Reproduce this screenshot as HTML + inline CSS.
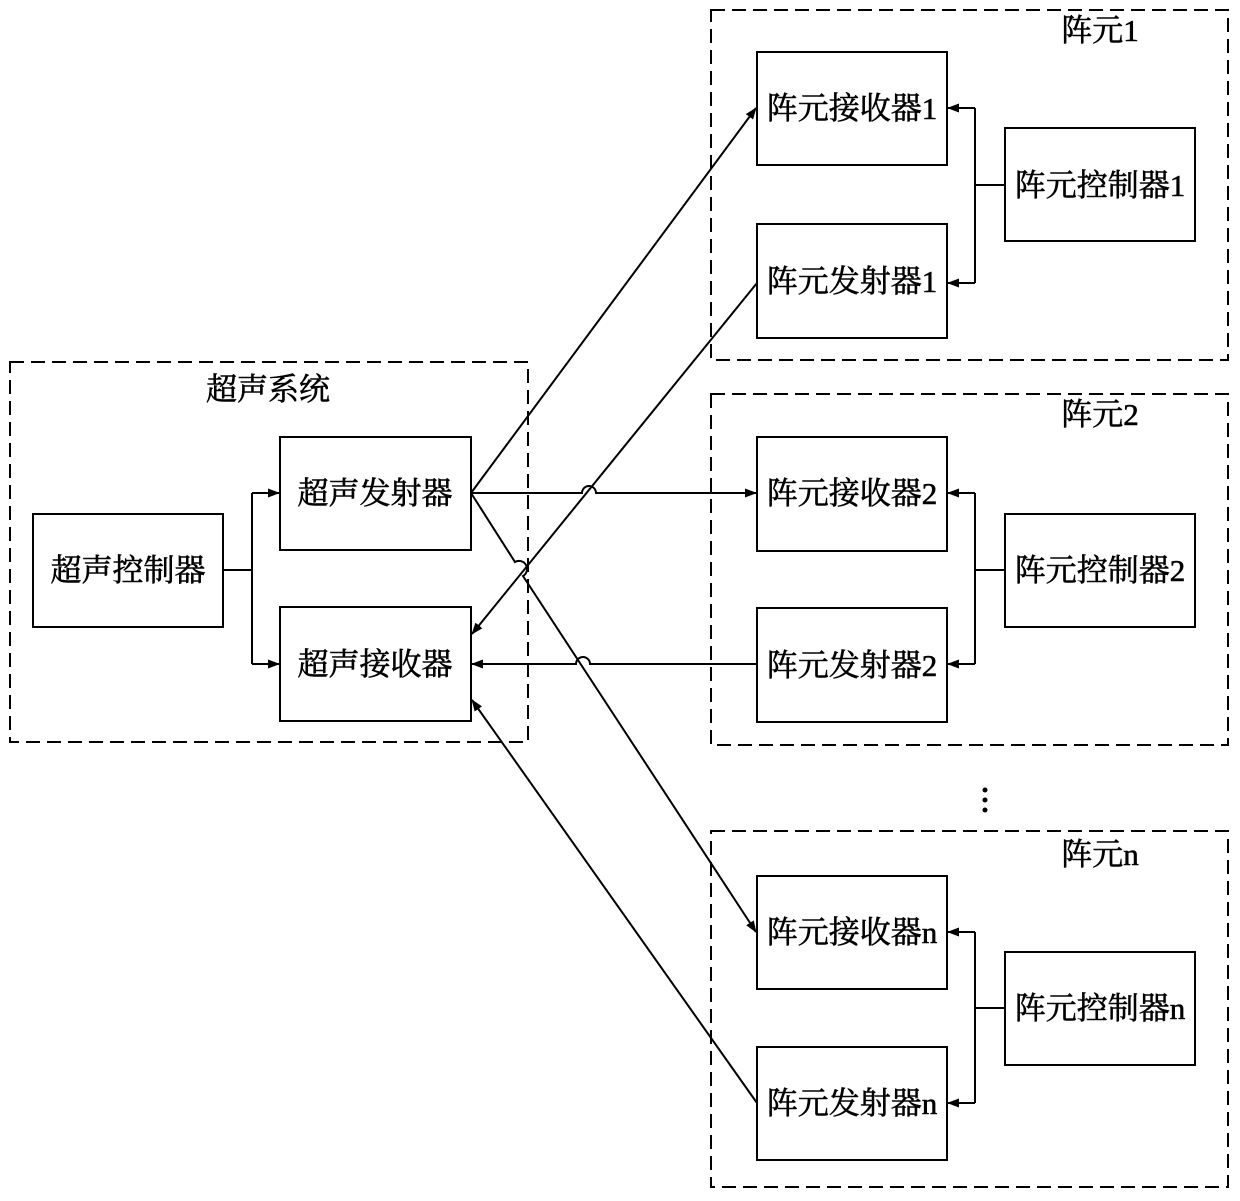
<!DOCTYPE html>
<html><head><meta charset="utf-8"><style>
html,body{margin:0;padding:0;background:#fff;}
svg text{font-family:"Liberation Serif","Noto Serif CJK SC","Noto Sans CJK SC",serif;font-size:31px;fill:#000;stroke:#000;stroke-width:0.6;}
</style></head><body>
<svg width="1240" height="1196" viewBox="0 0 1240 1196" xmlns="http://www.w3.org/2000/svg">
<defs><marker id="a" markerWidth="12" markerHeight="9" refX="11" refY="4.5" orient="auto" markerUnits="userSpaceOnUse"><path d="M0,0 L12,4.5 L0,9 Z" fill="#000"/></marker></defs>
<g fill="none" stroke="#000" stroke-width="2" stroke-dasharray="14,7">
<rect x="10" y="362" width="518" height="380"/>
<rect x="711" y="10" width="517" height="350"/>
<rect x="711" y="394" width="517" height="351"/>
<rect x="711" y="831" width="517" height="356"/>
</g>
<g fill="#fff" stroke="#000" stroke-width="2">
<rect x="33" y="514" width="190" height="113"/>
<rect x="280" y="437" width="191" height="113"/>
<rect x="280" y="607" width="191" height="114"/>
<rect x="757" y="52" width="190" height="113"/>
<rect x="757" y="224" width="190" height="114"/>
<rect x="1005" y="128" width="190" height="113"/>
<rect x="757" y="437" width="190" height="114"/>
<rect x="757" y="608" width="190" height="114"/>
<rect x="1005" y="514" width="190" height="113"/>
<rect x="757" y="876" width="190" height="113"/>
<rect x="757" y="1047" width="190" height="113"/>
<rect x="1005" y="952" width="190" height="113"/>
</g>
<g fill="none" stroke="#000" stroke-width="2">
<path d="M223,570 H252 M252,493 V664"/>
<path d="M252,493 H279" marker-end="url(#a)"/>
<path d="M252,664 H279" marker-end="url(#a)"/>
<path d="M1005,185 H975 M975,108 V283"/>
<path d="M975,108 H948" marker-end="url(#a)"/>
<path d="M975,283 H948" marker-end="url(#a)"/>
<path d="M1005,570 H975 M975,493 V664"/>
<path d="M975,493 H948" marker-end="url(#a)"/>
<path d="M975,664 H948" marker-end="url(#a)"/>
<path d="M1005,1008 H975 M975,932 V1103"/>
<path d="M975,932 H948" marker-end="url(#a)"/>
<path d="M975,1103 H948" marker-end="url(#a)"/>
<path d="M471,493 L756,108" marker-end="url(#a)"/>
<path d="M471,493 H582 A7,7 0 0 1 596,493 H756" marker-end="url(#a)"/>
<path d="M471,493 L515,562 A7,7 0 0 1 523,576 L756,932" marker-end="url(#a)"/>
<path d="M757,283 L472,634" marker-end="url(#a)"/>
<path d="M757,664 H590 A7,7 0 0 0 576,664 H472" marker-end="url(#a)"/>
<path d="M757,1103 L472,700" marker-end="url(#a)"/>
</g>
<g fill="#000"><circle cx="985" cy="790" r="2.5"/><circle cx="985" cy="800" r="2.5"/><circle cx="985" cy="810" r="2.5"/></g>
<text x="268" y="400" text-anchor="middle">超声系统</text>
<text x="128" y="581" text-anchor="middle">超声控制器</text>
<text x="375" y="504" text-anchor="middle">超声发射器</text>
<text x="375" y="675" text-anchor="middle">超声接收器</text>
<text x="1100" y="41" text-anchor="middle">阵元1</text>
<text x="852" y="119" text-anchor="middle">阵元接收器1</text>
<text x="852" y="292" text-anchor="middle">阵元发射器1</text>
<text x="1100" y="196" text-anchor="middle">阵元控制器1</text>
<text x="1100" y="425" text-anchor="middle">阵元2</text>
<text x="852" y="504" text-anchor="middle">阵元接收器2</text>
<text x="852" y="676" text-anchor="middle">阵元发射器2</text>
<text x="1100" y="581" text-anchor="middle">阵元控制器2</text>
<text x="1100" y="865" text-anchor="middle">阵元n</text>
<text x="852" y="943" text-anchor="middle">阵元接收器n</text>
<text x="852" y="1114" text-anchor="middle">阵元发射器n</text>
<text x="1100" y="1019" text-anchor="middle">阵元控制器n</text>
</svg>
</body></html>
